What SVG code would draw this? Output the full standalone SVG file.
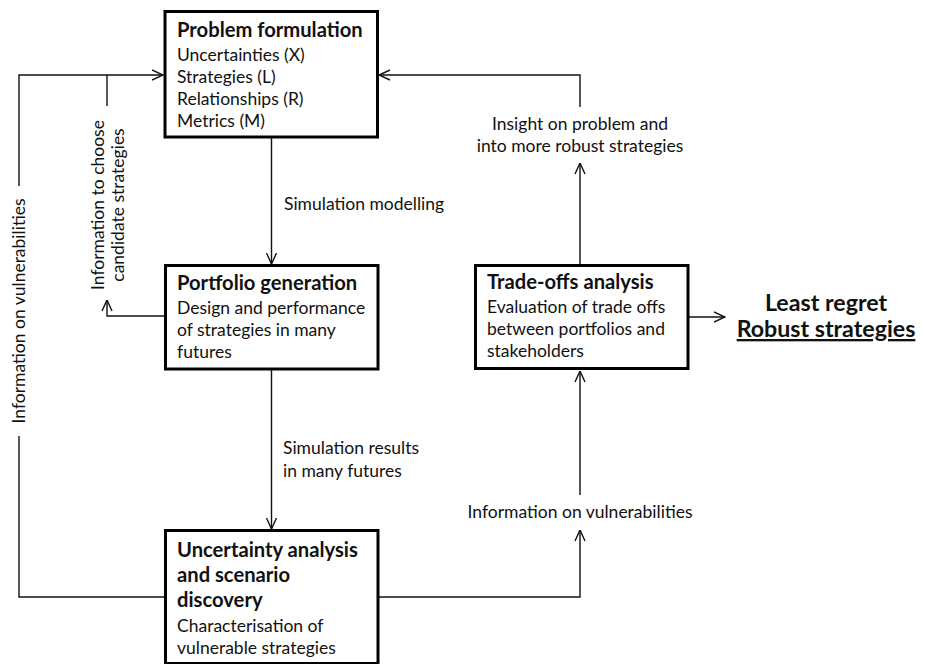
<svg xmlns="http://www.w3.org/2000/svg" width="925" height="664" viewBox="0 0 925 664">
<style>
.box{fill:#fff;stroke:#000;stroke-width:3}
.t{font-family:Lato,"Liberation Sans",sans-serif;font-size:17.5px;fill:#111}
.b{font-family:Lato,"Liberation Sans",sans-serif;font-size:20.2px;font-weight:bold;fill:#111}
.big{font-family:Lato,"Liberation Sans",sans-serif;font-size:23.2px;font-weight:bold;fill:#111}
.c{fill:none;stroke:#111;stroke-width:1.4}
</style>
<defs>
<marker id="ar" viewBox="0 0 12 12" refX="11.5" refY="6" markerWidth="12" markerHeight="12" markerUnits="userSpaceOnUse" orient="auto">
<path d="M0.5,1 L11.5,6 L0.5,11" fill="none" stroke="#111" stroke-width="1.4"/>
</marker>
</defs>
<rect width="925" height="664" fill="#fff"/>
<g id="connectors">
<path class="c" d="M580,107 V75 H379" marker-end="url(#ar)"/>
<path class="c" d="M580,265 V163" marker-end="url(#ar)"/>
<path class="c" d="M271.5,138 V264" marker-end="url(#ar)"/>
<path class="c" d="M271.5,370 V529" marker-end="url(#ar)"/>
<path class="c" d="M19,186 V75 H163" marker-end="url(#ar)"/>
<path class="c" d="M107,106 V75"/>
<path class="c" d="M164,316 H107 V300" marker-end="url(#ar)"/>
<path class="c" d="M164,597 H19 V436"/>
<path class="c" d="M378,597 H580 V530" marker-end="url(#ar)"/>
<path class="c" d="M580,495 V371" marker-end="url(#ar)"/>
<path class="c" d="M689,317 H725" marker-end="url(#ar)"/>
<text class="t" x="284" y="210">Simulation modelling</text>
<text class="t" x="283" y="454">Simulation results</text>
<text class="t" x="283" y="477">in many futures</text>
<text class="t" x="580" y="130" text-anchor="middle">Insight on problem and</text>
<text class="t" x="580" y="152" text-anchor="middle">into more robust strategies</text>
<text class="t" x="580" y="518" text-anchor="middle">Information on vulnerabilities</text>
<text class="t" transform="translate(25,311) rotate(-90)" text-anchor="middle">Information on vulnerabilities</text>
<text class="t" transform="translate(104,205) rotate(-90)" text-anchor="middle">Information to choose</text>
<text class="t" transform="translate(124,205) rotate(-90)" text-anchor="middle">candidate strategies</text>
</g>
<g id="problem">
<rect class="box" x="165" y="11.5" width="212.5" height="125.5"/>
<text class="b" x="177" y="37">Problem formulation</text>
<text class="t" x="177" y="61">Uncertainties (X)</text>
<text class="t" x="177" y="83">Strategies (L)</text>
<text class="t" x="177" y="105">Relationships (R)</text>
<text class="t" x="177" y="127">Metrics (M)</text>
</g>
<g id="portfolio">
<rect class="box" x="165.5" y="265.5" width="212.5" height="103.5"/>
<text class="b" x="177" y="290">Portfolio generation</text>
<text class="t" x="177" y="314">Design and performance</text>
<text class="t" x="177" y="336">of strategies in many</text>
<text class="t" x="177" y="358">futures</text>
</g>
<g id="uncertainty">
<rect class="box" x="165.5" y="530.5" width="212.5" height="133"/>
<text class="b" x="177" y="557">Uncertainty analysis</text>
<text class="b" x="177" y="582">and scenario</text>
<text class="b" x="177" y="607">discovery</text>
<text class="t" x="177" y="632">Characterisation of</text>
<text class="t" x="177" y="654">vulnerable strategies</text>
</g>
<g id="tradeoffs">
<rect class="box" x="475.5" y="265.5" width="212.5" height="103"/>
<text class="b" x="487" y="289">Trade-offs analysis</text>
<text class="t" x="487" y="313">Evaluation of trade offs</text>
<text class="t" x="487" y="335">between portfolios and</text>
<text class="t" x="487" y="357">stakeholders</text>
</g>
<g id="result">
<text class="big" x="826" y="311" text-anchor="middle">Least regret</text>
<text class="big" x="826" y="337" text-anchor="middle" text-decoration="underline">Robust strategies</text>
</g>
</svg>
